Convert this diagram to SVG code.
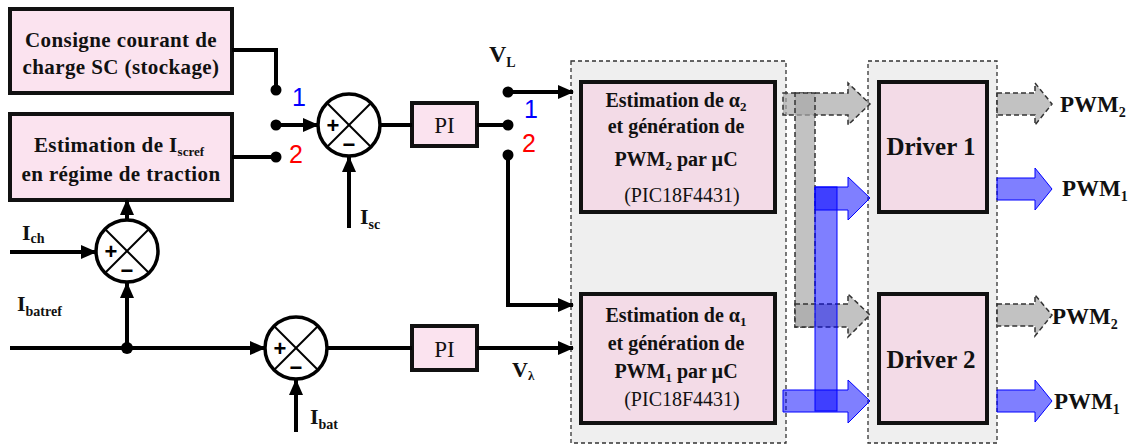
<svg xmlns="http://www.w3.org/2000/svg" width="1148" height="444" viewBox="0 0 1148 444">
<style>
.t{font-family:'Liberation Serif','Times New Roman',serif;font-weight:bold;fill:#111}
.n{font-family:'Liberation Serif','Times New Roman',serif;font-weight:normal;fill:#111}
.box{fill:#fbe3ef;stroke:#111;stroke-width:4}
.box2{fill:#f3dbe7;stroke:#111;stroke-width:4}
.cont{fill:#efefef;stroke:#333;stroke-width:1.3;stroke-dasharray:4,3}
.w{fill:none;stroke:#000;stroke-width:4}
.sum{fill:#fff;stroke:#000;stroke-width:3.5}
.x{stroke:#000;stroke-width:2}
.sg{font-family:'Liberation Sans',Arial,sans-serif;font-weight:bold;fill:#000}
.gray{fill:#a8a8a8;fill-opacity:.7;stroke:#333;stroke-width:1.5;stroke-dasharray:5,3}
.blue{fill:#0000ff;fill-opacity:.5;stroke:#0000ff;stroke-width:1}
.num{font-family:'Liberation Sans',Arial,sans-serif;font-size:25px}
</style>
<defs>
<marker id="ah" markerUnits="userSpaceOnUse" markerWidth="16" markerHeight="14" refX="15" refY="7" orient="auto">
<path d="M0,0 L16,7 L0,14 z" fill="#000"/>
</marker>
</defs>

<g id="containers">
<rect class="cont" x="571" y="61" width="215" height="382"/>
<rect class="cont" x="868" y="61" width="129" height="382"/>
</g>

<g id="box-consigne">
<rect class="box" x="10" y="9" width="222" height="84"/>
<text class="t" font-size="21" letter-spacing="0.4" x="121" y="47" text-anchor="middle">Consigne courant de</text>
<text class="t" font-size="21" letter-spacing="0.4" x="121" y="74" text-anchor="middle">charge SC (stockage)</text>
</g>

<g id="box-iscref">
<rect class="box" x="10" y="114" width="222" height="86"/>
<text class="t" font-size="21" letter-spacing="0.4" x="119" y="152" text-anchor="middle">Estimation de I<tspan font-size="13" dy="4" letter-spacing="0">scref</tspan></text>
<text class="t" font-size="21" letter-spacing="0.4" x="121" y="181" text-anchor="middle">en régime de traction</text>
</g>

<g id="sum1">
<circle class="sum" cx="349" cy="125" r="31"/>
<line class="x" x1="327" y1="103" x2="371" y2="147"/>
<line class="x" x1="371" y1="103" x2="327" y2="147"/>
<text class="sg" font-size="22" x="333" y="133" text-anchor="middle">+</text>
<text class="sg" font-size="22" x="349" y="152" text-anchor="middle">−</text>
</g>

<g id="sum2">
<circle class="sum" cx="127" cy="251" r="31"/>
<line class="x" x1="105" y1="229" x2="149" y2="273"/>
<line class="x" x1="149" y1="229" x2="105" y2="273"/>
<text class="sg" font-size="22" x="111" y="259" text-anchor="middle">+</text>
<text class="sg" font-size="22" x="127" y="278" text-anchor="middle">−</text>
</g>

<g id="sum3">
<circle class="sum" cx="296" cy="348" r="31"/>
<line class="x" x1="274" y1="326" x2="318" y2="370"/>
<line class="x" x1="318" y1="326" x2="274" y2="370"/>
<text class="sg" font-size="22" x="280" y="356" text-anchor="middle">+</text>
<text class="sg" font-size="22" x="296" y="375" text-anchor="middle">−</text>
</g>

<g id="pi1">
<rect class="box" x="412" y="103" width="65" height="43"/>
<text class="n" font-size="23" x="444.5" y="133" text-anchor="middle">PI</text>
</g>

<g id="pi2">
<rect class="box" x="412" y="326" width="65" height="44"/>
<text class="n" font-size="23" x="444.5" y="357" text-anchor="middle">PI</text>
</g>

<g id="box-alpha2">
<rect class="box2" x="581" y="82" width="194" height="130"/>
<text class="t" font-size="20" x="676" y="107" text-anchor="middle">Estimation de α<tspan font-size="13" dy="4">2</tspan></text>
<text class="t" font-size="20" x="676" y="133" text-anchor="middle">et génération de</text>
<text class="t" font-size="20" x="676" y="166" text-anchor="middle">PWM<tspan font-size="13" dy="4">2</tspan><tspan dy="-4"> par µC</tspan></text>
<text class="n" font-size="20" x="682" y="202" text-anchor="middle">(PIC18F4431)</text>
</g>

<g id="box-alpha1">
<rect class="box2" x="581" y="294" width="194" height="129"/>
<text class="t" font-size="20" x="676" y="322" text-anchor="middle">Estimation de α<tspan font-size="13" dy="4">1</tspan></text>
<text class="t" font-size="20" x="676" y="350" text-anchor="middle">et génération de</text>
<text class="t" font-size="20" x="676" y="378" text-anchor="middle">PWM<tspan font-size="13" dy="4">1</tspan><tspan dy="-4"> par µC</tspan></text>
<text class="n" font-size="20" x="682" y="406" text-anchor="middle">(PIC18F4431)</text>
</g>

<g id="driver1">
<rect class="box2" x="879" y="82" width="108" height="130"/>
<text class="t" font-size="25" x="931" y="155" text-anchor="middle">Driver 1</text>
</g>

<g id="driver2">
<rect class="box2" x="879" y="294" width="108" height="129"/>
<text class="t" font-size="25" x="931" y="368" text-anchor="middle">Driver 2</text>
</g>

<g id="connectors">
<polyline class="w" points="232,50 276,50 276,90"/>
<line class="w" x1="232" y1="157" x2="276" y2="157"/>
<line class="w" x1="276" y1="125" x2="318" y2="125" marker-end="url(#ah)"/>
<circle cx="276" cy="90" r="5.5"/>
<circle cx="276" cy="125" r="5.5"/>
<circle cx="276" cy="157" r="5.5"/>
<line class="w" x1="349" y1="228" x2="349" y2="157" marker-end="url(#ah)"/>
<line class="w" x1="380" y1="125" x2="412" y2="125"/>
<line class="w" x1="477" y1="125" x2="508" y2="125"/>
<circle cx="508" cy="92" r="5.5"/>
<circle cx="508" cy="125" r="5.5"/>
<circle cx="508" cy="155" r="5.5"/>
<line class="w" x1="508" y1="92" x2="573" y2="92" marker-end="url(#ah)"/>
<polyline class="w" points="508,155 508,305 573,305" marker-end="url(#ah)"/>
<line class="w" x1="10" y1="252" x2="96" y2="252" marker-end="url(#ah)"/>
<line class="w" x1="127" y1="219" x2="127" y2="200" marker-end="url(#ah)"/>
<line class="w" x1="10" y1="348" x2="265" y2="348" marker-end="url(#ah)"/>
<line class="w" x1="127" y1="348" x2="127" y2="283" marker-end="url(#ah)"/>
<circle cx="127" cy="348" r="6"/>
<line class="w" x1="296" y1="432" x2="296" y2="380" marker-end="url(#ah)"/>
<line class="w" x1="327" y1="348" x2="412" y2="348"/>
<line class="w" x1="477" y1="348" x2="573" y2="348" marker-end="url(#ah)"/>

<polygon class="gray" points="783,93 848,93 848,83 870,104 848,125 848,115 783,115"/>
<rect class="gray" x="795" y="93" width="20" height="234"/>
<polygon class="gray" points="795,304 848,304 848,294 870,315 848,337 848,327 795,327"/>
<polygon class="blue" points="815,187 848,187 848,177 870,198 848,220 848,210 815,210"/>
<rect class="blue" x="815" y="187" width="22" height="224"/>
<polygon class="blue" points="783,390 848,390 848,380 870,401 848,423 848,412 783,412"/>

<polygon class="gray" points="997,93 1035,93 1035,83 1052,104 1035,125 1035,115 997,115"/>
<polygon class="blue" points="997,178 1035,178 1035,168 1052,189 1035,210 1035,200 997,200"/>
<polygon class="gray" points="997,304 1035,304 1035,295 1052,315 1035,336 1035,326 997,326"/>
<polygon class="blue" points="997,390 1035,390 1035,380 1052,401 1035,422 1035,412 997,412"/>
</g>

<g id="labels">
<text class="num" x="292" y="106" fill="#0000ff">1</text>
<text class="num" x="289" y="163" fill="#ff0000">2</text>
<text class="num" x="524" y="118" fill="#0000ff">1</text>
<text class="num" x="522" y="152" fill="#ff0000">2</text>
<text class="t" font-size="24" x="489" y="62">V<tspan font-size="14" dy="5">L</tspan></text>
<text class="t" font-size="22" x="512" y="377">V<tspan font-size="13" dy="3">λ</tspan></text>
<text class="t" font-size="22" x="360" y="224">I<tspan font-size="14" dy="5">sc</tspan></text>
<text class="t" font-size="22" x="22" y="240">I<tspan font-size="14" dy="3">ch</tspan></text>
<text class="t" font-size="22" x="17" y="311">I<tspan font-size="14" dy="5">batref</tspan></text>
<text class="t" font-size="22" x="310" y="424">I<tspan font-size="14" dy="5">bat</tspan></text>
<text class="t" font-size="23" x="1060" y="112">PWM<tspan font-size="14" dy="5">2</tspan></text>
<text class="t" font-size="23" x="1062" y="196">PWM<tspan font-size="14" dy="5">1</tspan></text>
<text class="t" font-size="23" x="1052" y="324">PWM<tspan font-size="14" dy="5">2</tspan></text>
<text class="t" font-size="23" x="1054" y="409">PWM<tspan font-size="14" dy="5">1</tspan></text>
</g>
</svg>
